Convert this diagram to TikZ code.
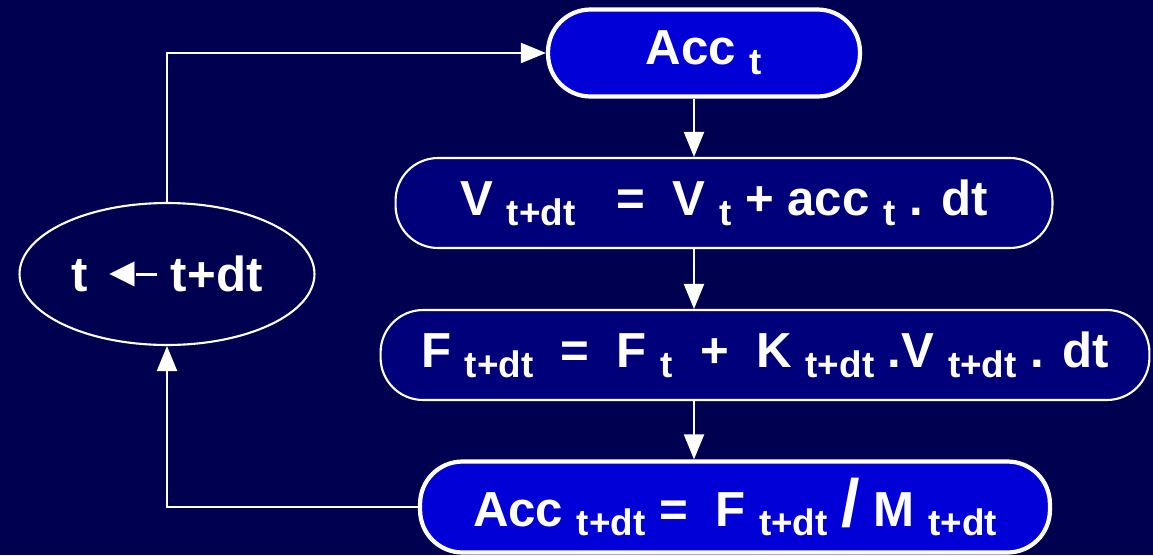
\documentclass[tikz,border=0pt]{standalone}
\usepackage{fontspec}
\setmainfont{Liberation Sans}
\usetikzlibrary{arrows.meta,shapes.geometric}

\definecolor{bgnavy}{RGB}{0,0,80}
\definecolor{boxblue}{RGB}{0,0,215}
\definecolor{boxnavy}{RGB}{0,0,122}

% lowered index, as in the slide
\newcommand{\lowidx}[1]{\raisebox{-5.5pt}{\fontsize{21}{21}\selectfont #1}}

\begin{document}
\begin{tikzpicture}[
    x=0.02cm, y=-0.02cm, % one unit = one pixel of the slide
    every node/.style={text=white, font=\bfseries\fontsize{28}{32}\selectfont},
    pill/.style={draw=white, rectangle, rounded corners=0.85cm, inner sep=0pt},
    thinpill/.style={pill, fill=boxnavy, line width=1.2pt, minimum height=1.8cm},
    thickpill/.style={pill, fill=boxblue, line width=2.4pt},
    arr/.style={-{Triangle[length=0.5cm,width=0.4cm]}, white, line width=1.2pt}
]

    % Background
    \fill[bgnavy] (0,0) rectangle (1153,555);
    \useasboundingbox (0,0) rectangle (1153,555);

    % --- Steps of the loop ---
    \node[thickpill, minimum width=6.24cm, minimum height=1.74cm] (acct) at (704,53)
        {Acc \lowidx{t}};
    \node[thinpill, minimum width=13.14cm] (vel) at (724,203)
        {V \lowidx{t+dt} ~ = ~V \lowidx{t} + acc \lowidx{t} . dt};
    \node[thinpill, minimum width=15.38cm] (force) at (765,355)
        {F \lowidx{t+dt} ~= ~F \lowidx{t} ~+ ~K \lowidx{t+dt} .V \lowidx{t+dt} . dt};
    \node[thickpill, minimum width=12.6cm, minimum height=1.82cm] (accn) at (735,507)
        {Acc \lowidx{t+dt} = ~F \lowidx{t+dt} {\fontsize{38}{38}\selectfont /} M \lowidx{t+dt}};

    % Time step
    \node[ellipse, draw=white, fill=bgnavy, line width=1.2pt, inner sep=0pt,
          minimum width=5.9cm, minimum height=2.84cm] (tstep) at (167,274)
        {t \raisebox{3pt}{\fontsize{24}{24}\selectfont ◄}\kern-4pt\rule[9pt]{0.42cm}{1.8pt} t+dt};

    % Down the chain
    \coordinate (spine) at (694,0);
    \draw[arr] (acct.south -| spine) -- (vel.north -| spine);
    \draw[arr] (vel.south -| spine) -- (force.north -| spine);
    \draw[arr] (force.south -| spine) -- (accn.north -| spine);

    % Back round the loop
    \draw[arr] (accn.west) -| (tstep.south);
    \draw[arr] (tstep.north) |- (acct.west);

\end{tikzpicture}
\end{document}
